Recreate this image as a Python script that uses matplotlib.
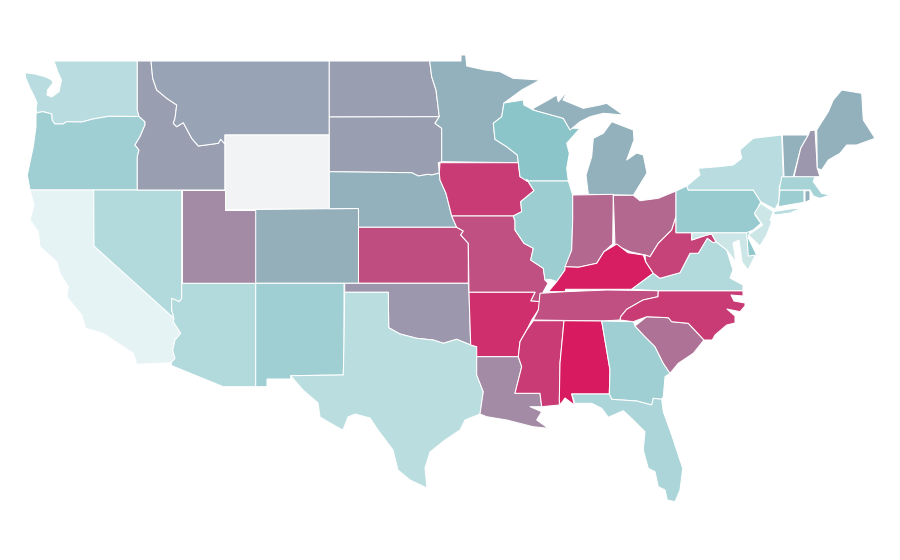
import matplotlib
matplotlib.use("Agg")
import matplotlib.pyplot as plt
import numpy as np
from matplotlib.colors import LinearSegmentedColormap
from matplotlib.patches import Polygon

# state outlines (x, y in map units, y going down)
WA = [(54,61),(137.3,61),(137.3,110),(139,116.5),(108.7,116.3),(93,119),(81.7,122),(66.7,121.7),(63,124),(55,124),(52,120),(51.7,114),(43,111.7),(36.7,112.7),(36,108),(37,103),(35,98),(30,88),(25.7,78),(25,72.7),(35,74),(46.7,77.3),(51.7,80),(53,83),(47.5,90),(47,95),(51.7,97),(59,91.7),(61.5,80),(57.7,71.7)]
OR = [(36,115),(36.7,112.7),(43,111.7),(51.7,114),(52,120),(55,124),(63,124),(66.7,121.7),(81.7,122),(93,119),(108.7,116.3),(139,116.5),(145,121.7),(145,125),(140,136.7),(135,145),(139,150),(137.3,156.7),(137.3,190),(30,190),(27.3,175),(33.3,146.7),(36,126.7)]
CA = [(30,190),(93.7,190),(94,246),(174,318.3),(173.3,321.7),(180.7,333.3),(175,340),(172.7,350),(175,358.3),(171,362.7),(136.7,364.3),(133.3,353.3),(118.3,343.3),(103.3,333.3),(85.7,328.3),(81.7,315),(66.7,296.7),(68.3,286.7),(60,273.3),(56.7,261.7),(40,246.7),(38.3,231.7),(30,220),(34,205)]
NV = [(93.7,190),(181.7,190),(181.7,298.3),(179.3,301.7),(171.7,298.3),(171.7,310),(174,318.3),(94,246)]
ID = [(137.3,61),(151,61),(152.7,78.3),(156.7,90),(166.7,98.3),(176.7,105),(175,118.3),(173.3,123.3),(176.7,126.7),(183.3,122.7),(191.7,138.3),(198.3,146),(218.3,143.3),(220.7,139.3),(225,144),(225,190),(137.3,190),(137.3,156.7),(139,150),(135,145),(140,136.7),(145,125),(145,121.7),(139,116.5),(137.3,110)]
MT = [(151,61),(329.3,61),(329.3,135),(225,135),(225,144),(220.7,139.3),(218.3,143.3),(198.3,146),(191.7,138.3),(183.3,122.7),(176.7,126.7),(173.3,123.3),(175,118.3),(176.7,105),(166.7,98.3),(156.7,90),(152.7,78.3)]
WY = [(225,135),(329.3,135),(329.3,208.7),(225,209.5)]
UT = [(181.7,190),(225,190),(225,209.5),(255.7,209.5),(255.7,283.3),(181.7,283.3)]
CO = [(255.7,209.5),(329.3,208.7),(358.5,208.5),(358.5,283.3),(255.7,283.3)]
AZ = [(181.7,283.3),(255.7,283.3),(255.7,386.7),(223.3,386.7),(171.7,365.7),(171,362.7),(175,358.3),(172.7,350),(175,340),(180.7,333.3),(173.3,321.7),(174,318.3),(171.7,310),(171.7,298.3),(179.3,301.7),(181.7,298.3)]
NM = [(255.7,283.3),(344,283.3),(344,343.3),(343.3,375),(290.7,375.7),(290.7,379),(267,379),(267,386.7),(255.7,386.7)]
ND = [(329.3,61),(429.7,61),(431.7,76.7),(436,90),(439.3,116.7),(329.3,117)]
SD = [(329.3,117),(439.3,116.7),(435,123.3),(441.7,128.3),(441.7,161.7),(438.3,162.7),(439.3,173),(431.7,175),(428.3,174.3),(418.3,176),(411.7,172.7),(329.3,171.7)]
NE = [(329.3,171.7),(411.7,172.7),(418.3,176),(428.3,174.3),(431.7,175),(439.3,173),(440,180),(446,193.3),(451.7,216),(456.7,227.3),(358.5,227.3),(358.5,208.5),(329.3,208.7)]
KS = [(358.5,227.3),(456.7,227.3),(463.3,231),(460.7,235),(468.3,243.3),(468.3,283.3),(358.5,283.3)]
OK = [(344.7,283.3),(468.3,283.3),(469,292.3),(470.7,345),(456.7,339.3),(443.3,343.3),(433.3,340),(416.7,338.3),(400,334),(388.7,327.7),(388.3,292.3),(344.7,292.3)]
TX = [(344.7,292.3),(388.3,292.3),(388.7,327.7),(400,334),(416.7,338.3),(433.3,340),(443.3,343.3),(456.7,339.3),(470.7,345),(476.7,346.7),(476.7,375),(483.3,391.7),(480,414),(465,420),(460,430),(445,440),(430,452),(425,468),(427,488),(410,480),(398,470),(393,450),(378,430),(370,418),(355,414),(348,417),(343,430),(337,427),(320,417),(318,403),(303,390),(290.7,375.7),(343.3,375),(344,343.3)]
MN = [(429.7,61),(461,61),(461,55),(465.7,55),(466.7,66),(485,70),(500,71.7),(513,78.3),(540,80),(521.7,90),(504,103),(501.7,116.7),(493.3,123.3),(495,139.3),(506.7,146.7),(517.3,155),(518.3,162.7),(441.7,161.7),(441.7,128.3),(435,123.3),(439.3,116.7),(436,90),(431.7,76.7)]
IA = [(440,162.7),(518.3,162.7),(520,176.7),(526.7,179.3),(534,190.7),(520.7,201.7),(521.7,211.7),(513.3,216),(451.7,216),(446,193.3),(440,180),(439.3,173)]
MO = [(451.7,216),(513.3,216),(515,221),(515,230),(524,243.3),(533.3,248.3),(530.7,260),(543.3,268.3),(545,280),(548,283.3),(543.3,291.7),(540.7,301.7),(530.7,301),(535,292.3),(469,292.3),(468.3,243.3),(460.7,235),(463.3,231),(456.7,227.3)]
AR = [(469,292.3),(535,292.3),(530.7,301),(540.7,301.7),(538.3,310),(531.7,320),(526.7,330),(520,341.7),(518.3,356.7),(476.7,356.7),(476.7,346.7),(470.7,345)]
LA = [(476.7,356.7),(518.3,356.7),(521.7,366.7),(515,393.3),(540,393.3),(541.7,406.7),(530,406.7),(541.7,411.7),(536.7,420),(548.3,428.3),(533,426.7),(506.7,420),(486.7,416.7),(480,414),(483.3,391.7),(476.7,375)]
WI = [(504,103),(523.3,100),(524,105),(533.3,110),(563.3,118.3),(569.3,128.3),(580,128.3),(566.7,143.3),(569.3,153.3),(566.7,168.3),(568.3,181),(526.7,181),(520,176.7),(518.3,162.7),(517.3,155),(506.7,146.7),(495,139.3),(493.3,123.3),(501.7,116.7)]
IL = [(526.7,181),(568.3,181),(572.7,195),(572.7,220),(571.7,250),(565,270),(556.7,281.7),(550,279.3),(545,280),(543.3,268.3),(530.7,260),(533.3,248.3),(524,243.3),(515,230),(515,221),(513.3,216),(521.7,211.7),(520.7,201.7),(534,190.7),(526.7,179.3)]
MI_LOWER = [(588.3,194.3),(633.3,195.3),(647,173),(643.3,155),(636.7,153),(626.7,160),(634,140),(633.3,130),(611.7,121.7),(603.3,133.3),(593.3,138.3),(591.7,156.7),(586,175)]
MI_UPPER = [(533.3,110),(533.3,108.3),(548.3,100),(556.7,95),(558.3,101.7),(568.3,90),(563,100),(583.3,108.3),(600,105),(606.7,103.3),(623.3,115),(603.3,113.3),(590,116.7),(580,121.7),(570,130),(563.3,118.3)]
IN = [(572.7,195),(613.3,194.3),(612.7,244),(604,251.7),(596.7,263.3),(578.3,267.3),(565,266.7),(571.7,250),(572.7,220)]
OH = [(613.3,195.3),(633.3,195.3),(640,200.7),(658.3,198.3),(676,191),(676,216.7),(671.7,230),(658.3,243.3),(650,256.7),(645,255),(630,251.7),(615,245)]
KY = [(548.3,291.7),(556.7,281.7),(565,270),(565,266.7),(578.3,267.3),(596.7,263.3),(604,251.7),(616.7,244),(628,252.7),(643.3,255),(645.7,261.7),(653.3,273.3),(631.7,289.3),(565.7,289.3),(565,291.7)]
TN = [(540,293.3),(565,291.7),(606.7,290),(658.3,290.7),(658,296.7),(643,300),(626.7,309.3),(620.7,316.7),(620,320),(601.7,321),(533.3,320),(538.3,310)]
MS = [(533.3,320.7),(564,320.7),(560,363.3),(559.3,405),(541.7,406.7),(540,393.3),(515,393.3),(521.7,366.7),(518.3,356.7),(520,341.7),(526.7,330)]
AL = [(564,320.7),(601.7,321),(610,370),(609.3,394),(571.7,394),(574.3,405),(565,398),(560,405),(559.3,400),(560,363.3)]
GA = [(601.7,321),(633.3,321.7),(635,326),(643.3,335),(655,346.7),(663.3,363.3),(670,373.3),(665,376.7),(663.3,396.7),(661.7,399.3),(653.3,398.3),(651.7,405),(636.7,401),(611.7,399.3),(609.3,394),(610,370)]
FL = [(571.7,394),(609.3,394),(611.7,399.3),(636.7,401),(651.7,405),(653.3,398.3),(661.7,399.3),(663.3,411.7),(671.7,435),(682.7,468.3),(680,490),(675,501.7),(667.3,500),(665,490),(658.3,486.7),(655,471.7),(648.3,468.3),(643.3,450),(645,431.7),(633.3,420),(623.3,410.7),(608.3,417.3),(601.7,408.3),(591.7,403.3),(575,403.3)]
SC = [(635,326),(646.7,316.7),(668.3,317.7),(671.7,321.7),(688.3,323.3),(704,340),(693.3,353.3),(678.3,363.3),(670,373.3),(663.3,363.3),(655,346.7),(643.3,335)]
NC = [(658.3,290.7),(743,290.7),(743,296),(731,295),(734,301),(745,303),(745,306),(740,311.7),(727,309),(735,316),(735,323),(726.7,325),(715,335),(712.3,340),(704,340),(688.3,323.3),(671.7,321.7),(668.3,317.7),(646.7,316.7),(633.3,321.7),(620,320),(620.7,316.7),(626.7,309.3),(643,300),(658,296.7)]
VA = [(631.7,289.3),(653.3,273.3),(660,278.3),(680,272.7),(690,253.3),(698.3,253.3),(707.3,238.3),(713.3,242.7),(716,241.7),(726.7,250),(733,270),(730,278),(743,285),(743,290.7),(658.3,290.7)]
WV = [(676,216.7),(676,232.7),(691.7,232.7),(691.7,240),(706.7,235),(711.7,234),(716,241.7),(713.3,242.7),(707.3,238.3),(698.3,253.3),(690,253.3),(680,272.7),(660,278.3),(653.3,273.3),(645.7,261.7),(645,255),(650,256.7),(658.3,243.3),(671.7,230)]
MD = [(691.7,232.7),(746.7,232.7),(748.3,250),(755,256),(748,270),(742,262),(739,240),(733,243),(736,262),(726.7,250),(716,241.7),(711.7,234),(706.7,235),(691.7,240)]
DE = [(746.7,231.7),(750,231.7),(748.3,238),(756.7,255),(748.3,256)]
PA = [(676,191),(686.7,186),(688.3,190),(753.3,190),(760.7,201.7),(755,215),(761,223.3),(753.3,230),(746.7,232.7),(676,232.7)]
NY_MAIN = [(686.7,186),(700,175),(698.3,168.3),(718.3,166.7),(733.3,165),(741.7,158.3),(740,150),(753.3,138.3),(781.7,135),(783.3,176.7),(779.3,186.7),(779,201.7),(775,209.3),(760.7,201.7),(753.3,190),(688.3,190)]
NY_ISLAND = [(773,211.7),(790,209),(802,208),(790,213),(775,215)]
NJ = [(760.7,203.3),(773.3,211.7),(770,220),(771.7,221.7),(766.7,235),(760,246),(748.3,235),(762.7,225),(754.3,213.3)]
CT = [(780,190),(804,190),(804,202.3),(778.3,206.7)]
RI = [(805,190.7),(810,190.7),(810,200),(805,202.3)]
MA = [(781.7,176.7),(815,176),(813.3,181.7),(821.7,193.3),(830,195),(820,198.3),(813.3,196),(810,190),(779.3,190)]
VT = [(782.3,135),(808.3,135),(800.7,148.3),(793.3,176.7),(784,176.7)]
NH = [(810,130.7),(815,130),(817.3,168.3),(820,176.7),(794,176.7),(800.7,148.3),(808.3,135)]
ME = [(816.7,130),(828.3,111.7),(833.3,100),(841.7,90),(861.7,93.3),(863.3,120),(875,138.3),(856.7,145),(846.7,145),(840,153.3),(828.3,160),(821.7,170),(817.3,168.3)]

state_names = ["WA","OR","CA","NV","ID","MT","WY","UT","CO","AZ","NM","ND","SD","NE","KS","OK","TX",
               "MN","IA","MO","AR","LA","WI","IL","MI","IN","OH","KY","TN","MS","AL","GA","FL",
               "SC","NC","VA","WV","MD","DE","PA","NY","NJ","CT","RI","MA","VT","NH","ME"]
state_shapes = [[WA],[OR],[CA],[NV],[ID],[MT],[WY],[UT],[CO],[AZ],[NM],[ND],[SD],[NE],[KS],[OK],[TX],
                [MN],[IA],[MO],[AR],[LA],[WI],[IL],[MI_LOWER,MI_UPPER],[IN],[OH],[KY],[TN],[MS],[AL],[GA],[FL],
                [SC],[NC],[VA],[WV],[MD],[DE],[PA],[NY_MAIN,NY_ISLAND],[NJ],[CT],[RI],[MA],[VT],[NH],[ME]]
# estimated from the shade of each state, WY has no value
state_values = [0.23,0.35,0.0,0.26,0.61,0.59,np.nan,0.67,0.56,0.26,0.35,0.61,0.61,0.55,0.85,0.63,0.22,
                0.55,0.905,0.84,0.94,0.67,0.45,0.37,0.55,0.77,0.77,0.99,0.84,0.905,1.0,0.35,0.29,
                0.74,0.905,0.26,0.88,0.13,0.43,0.39,0.23,0.13,0.37,0.55,0.32,0.55,0.63,0.55]

ramp = LinearSegmentedColormap.from_list("teal_pink", [
    (0.0, "#e6f3f5"), (0.45, "#8bc5c9"), (0.55, "#93b1bc"), (0.62, "#9b9bb0"), (1.0, "#d81b60")])
ramp.set_bad("#f2f3f5")

fig = plt.figure(figsize=(9, 5.6), dpi=100)
ax = fig.add_axes([0, 0, 1, 1])

for name, parts, value in zip(state_names, state_shapes, state_values):
    color = ramp(np.ma.masked_invalid(value))
    for part in parts:
        ax.add_patch(Polygon(part, closed=True, facecolor=color, edgecolor="white", linewidth=0.75, joinstyle="round"))

ax.set_xlim(0, 900)
ax.set_ylim(560, 0)
ax.axis("off")

plt.savefig("out.png", dpi=100, facecolor="white")
